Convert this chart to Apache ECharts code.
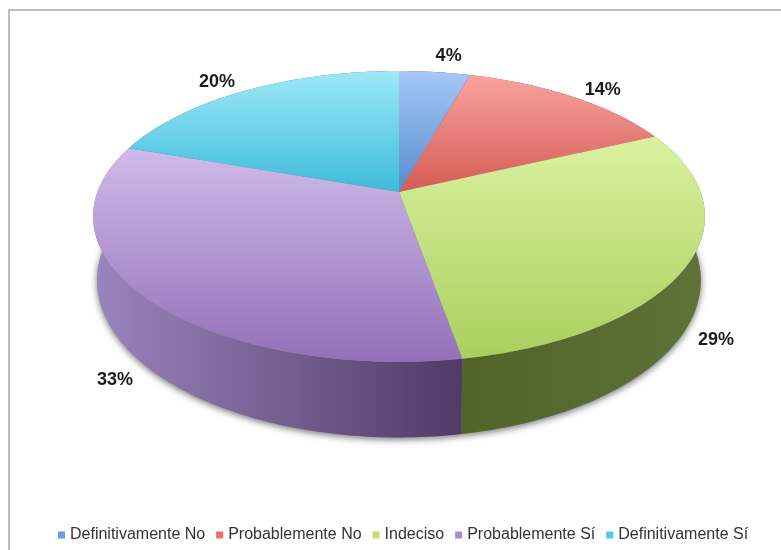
<!DOCTYPE html>
<html>
<head>
<meta charset="utf-8">
<style>html,body{margin:0;padding:0;background:#fff}#c{width:781px;height:550px}</style>
<script src="https://cdn.jsdelivr.net/npm/echarts@6/dist/echarts.min.js"></script>
</head>
<body>
<div id="c"></div>
<script>
// Data (percent of the whole)
const categories = ['Definitivamente No', 'Probablemente No', 'Indeciso', 'Probablemente Sí', 'Definitivamente Sí'];
const values = [4.4, 13.7, 29.1, 33.1, 19.7];

// Styles
const legendColors = ['#6b9fe3', '#ee6f69', '#bde070', '#a98ad2', '#4cc9e8'];
const topGradients = [
  ['#a6c8f7', '#558ccc'], ['#f8a39e', '#d65a55'], ['#d9f2a0', '#aacf5e'],
  ['#cfbbe9', '#9370b9'], ['#9ce9f7', '#3fbbda']
];
const wallGradients = [
  ['#3f6598', '#2c4a72'], ['#a14a46', '#7a3532'], ['#50642a', '#5f7339'],
  ['#9a85bd', '#4f3b66'], ['#2f8ca3', '#236c80']
];
const labelOffsets = [[14, -16], [30, -7], [31, 10], [-30, 15], [-28, -9]];
const labelAnchorsOnBase = [false, false, true, true, false];

// Projection of the tilted disc
const cx = 399, P = 0.168;
const topDisc = { y: 192, a: 301.6, b: 141.3 };
const baseDisc = { y: 254, a: 297.5, b: 152.6 };
function project(d, deg, r) {
  const t = deg * Math.PI / 180, u = r * Math.sin(t), v = r * Math.cos(t);
  const s = 1 / (1 + P * v);
  return [cx + d.a * u * s, d.y - d.b * v * s];
}
function arc(d, from, to) {
  const pts = [], n = Math.max(2, Math.ceil(to - from));
  for (let i = 0; i <= n; i++) pts.push(project(d, from + (to - from) * i / n, 1));
  return pts;
}
const total = values.reduce((a, b) => a + b, 0);
function startAngle(i) {
  let s = 0;
  for (let k = 0; k < i; k++) s += values[k];
  return s / total * 360;
}
function grad(c, horizontal) {
  return new echarts.graphic.LinearGradient(0, 0, horizontal ? 1 : 0, horizontal ? 0 : 1,
    [{ offset: 0, color: c[0] }, { offset: 1, color: c[1] }]);
}

function makeRender(i) {
  return function (params, api) {
    const value = api.value(0);
    const from = startAngle(i), to = from + value / total * 360, mid = (from + to) / 2;
    const topArc = arc(topDisc, from, to);
    const baseArc = arc(baseDisc, from, to);
    const anchor = project(labelAnchorsOnBase[i] ? baseDisc : topDisc, mid, 1);
    const off = labelOffsets[i];
    return {
      type: 'group',
      children: [
        { type: 'polygon', z2: 1, silent: true,
          shape: { points: baseArc.concat([project(baseDisc, mid, 0)]) },
          style: { fill: '#888', shadowBlur: 7, shadowColor: 'rgba(0,0,0,0.55)', shadowOffsetY: 2, shadowOffsetX: 0 } },
        { type: 'polygon', z2: 5,
          shape: { points: topArc.concat(baseArc.slice().reverse()) },
          style: { fill: grad(wallGradients[i], true) } },
        { type: 'polygon', z2: 10,
          shape: { points: [project(topDisc, 0, 0)].concat(topArc) },
          style: { fill: grad(topGradients[i], false) } },
        { type: 'text', z2: 20,
          style: {
            text: Math.round(value) + '%',
            x: anchor[0] + off[0], y: anchor[1] + off[1],
            align: 'center', verticalAlign: 'middle',
            fill: '#1c1c1c', font: 'bold 18px "Liberation Sans", Arial, sans-serif'
          } }
      ]
    };
  };
}

const chart = echarts.init(document.getElementById('c'));
chart.setOption({
  animation: false,
  backgroundColor: '#fff',
  graphic: [{
    type: 'polyline', silent: true,
    shape: { points: [[9, 560], [9, 10], [790, 10]] },
    style: { stroke: '#a9a9a9', lineWidth: 1.5, fill: 'none' }
  }],
  legend: {
    left: 53, top: 522, itemWidth: 7, itemHeight: 7, itemGap: 11, icon: 'rect',
    data: categories,
    textStyle: { fontFamily: '"Liberation Sans", Arial, sans-serif', fontSize: 16, color: '#333' }
  },
  series: categories.map((name, i) => ({
    type: 'custom', name, coordinateSystem: 'none',
    itemStyle: { color: legendColors[i] },
    data: [values[i]],
    renderItem: makeRender(i)
  }))
});
</script>
</body>
</html>
